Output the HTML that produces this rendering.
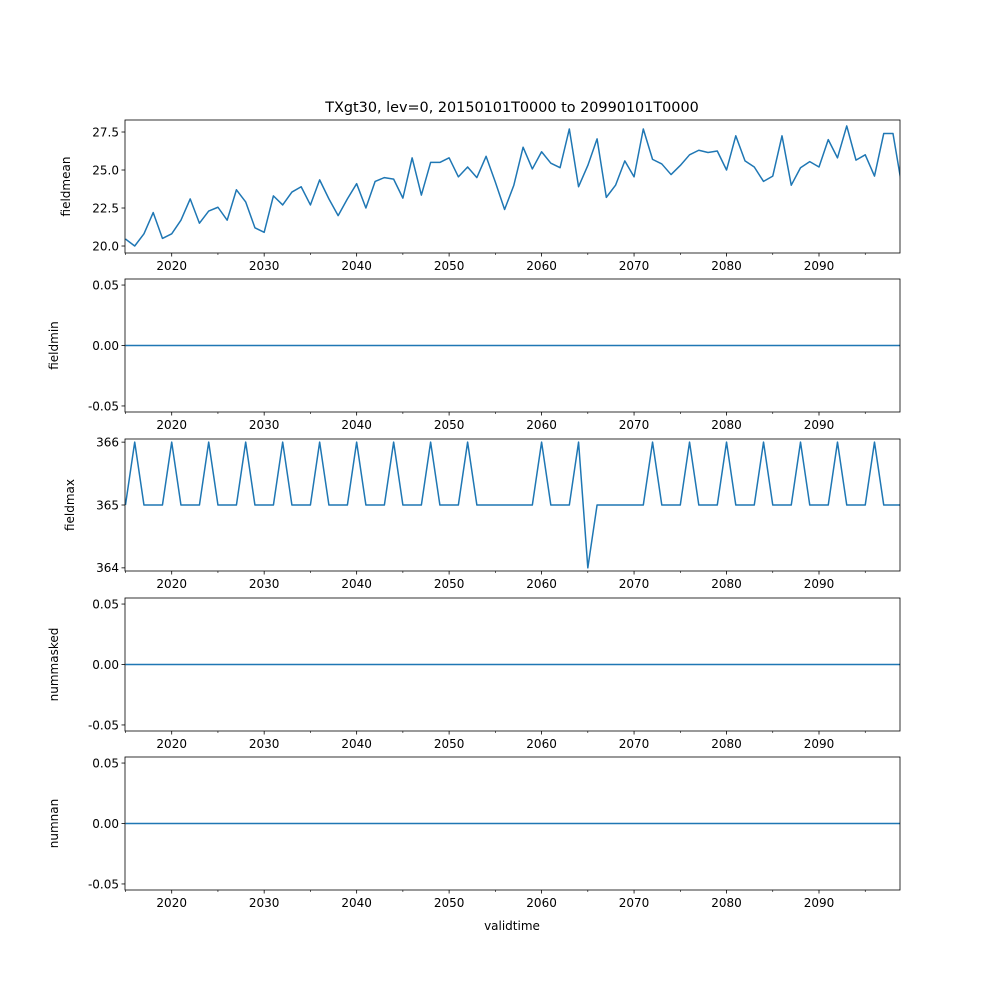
<!DOCTYPE html>
<html><head><meta charset="utf-8"><style>
html,body{margin:0;padding:0;background:#fff;}
svg text{font-family:"DejaVu Sans","Liberation Sans",sans-serif;font-size:12px;fill:#000;}
</style></head><body>
<svg id="c" width="1000" height="1000" xmlns="http://www.w3.org/2000/svg">
<defs></defs>
<text x="512" y="112" text-anchor="middle" style="font-size:14.4px">TXgt30, lev=0, 20150101T0000 to 20990101T0000</text>
<text x="512" y="930" text-anchor="middle">validtime</text>
</svg>
<script>
const years = [];
for (let y = 2015; y <= 2099; y++) years.push(y);
const fieldmean = [20.46,20.0,20.8,22.2,20.5,20.8,21.7,23.1,21.5,22.3,22.55,21.7,23.7,22.9,21.2,20.9,23.3,22.7,23.55,23.9,22.7,24.35,23.1,22.0,23.1,24.1,22.5,24.25,24.5,24.4,23.15,25.8,23.35,25.5,25.5,25.8,24.55,25.2,24.5,25.9,24.2,22.4,24.0,26.5,25.07,26.2,25.45,25.15,27.7,23.9,25.3,27.05,23.2,24.0,25.6,24.55,27.7,25.7,25.4,24.7,25.3,26.0,26.3,26.15,26.25,25.0,27.25,25.6,25.2,24.25,24.6,27.25,24.0,25.15,25.55,25.2,27.0,25.8,27.9,25.65,26.0,24.6,27.4,27.4,23.8];
const fieldmin = years.map(()=>0);
const fieldmax = [365,366,365,365,365,366,365,365,365,366,365,365,365,366,365,365,365,366,365,365,365,366,365,365,365,366,365,365,365,366,365,365,365,366,365,365,365,366,365,365,365,365,365,365,365,366,365,365,365,366,364,365,365,365,365,365,365,366,365,365,365,366,365,365,365,366,365,365,365,366,365,365,365,366,365,365,365,366,365,365,365,366,365,365,365];
const nummasked = years.map(()=>0);
const numnan = years.map(()=>0);
const xTicks = [2020,2030,2040,2050,2060,2070,2080,2090];
const xMinor = [2015,2025,2035,2045,2055,2065,2075,2085,2095];

const NS="http://www.w3.org/2000/svg";
const svg=document.getElementById('c');
const X0=125, X1=900;
function xs(v){return 171.7+(v-2020)*(819-171.7)/70;}
function mk(tag,attrs,parent){const e=document.createElementNS(NS,tag);for(const k in attrs)e.setAttribute(k,attrs[k]);(parent||svg).appendChild(e);return e;}

const panels=[
 {name:'fieldmean',data:fieldmean,top:120,bot:253,ymin:19.54,ymax:28.29,ticks:[20.0,22.5,25.0,27.5],fmt:v=>v.toFixed(1),lx:70},
 {name:'fieldmin',data:fieldmin,top:279,bot:412,ymin:-0.055,ymax:0.055,ticks:[-0.05,0,0.05],fmt:v=>v.toFixed(2),lx:58},
 {name:'fieldmax',data:fieldmax,top:439,bot:571,ymin:363.95,ymax:366.05,ticks:[364,365,366],fmt:v=>String(v),lx:74},
 {name:'nummasked',data:nummasked,top:598,bot:731,ymin:-0.055,ymax:0.055,ticks:[-0.05,0,0.05],fmt:v=>v.toFixed(2),lx:58},
 {name:'numnan',data:numnan,top:757,bot:890,ymin:-0.055,ymax:0.055,ticks:[-0.05,0,0.05],fmt:v=>v.toFixed(2),lx:58}
];
panels.forEach((p,i)=>{
  const g=mk('g',{});
  
  
  const ys=v=>p.bot-(v-p.ymin)/(p.ymax-p.ymin)*(p.bot-p.top);
  const cid='clip'+i;
  const cp=mk('clipPath',{id:cid},svg.querySelector('defs'));
  mk('rect',{x:X0,y:p.top,width:X1-X0,height:p.bot-p.top},cp);
  const pts=years.map((y,j)=>xs(y).toFixed(2)+','+ys(p.data[j]).toFixed(2)).join(' ');
  const line=mk('polyline',{points:pts,fill:'none',stroke:'#1f77b4','stroke-width':1.5,'stroke-linejoin':'round','clip-path':'url(#'+cid+')'},g);
  
  
  const fr=mk('rect',{x:X0,y:p.top,width:X1-X0,height:p.bot-p.top,fill:'none',stroke:'#000','stroke-width':0.8},g);
  
  
  xTicks.forEach(t=>{
    const x=xs(t);
    mk('line',{x1:x,x2:x,y1:p.bot,y2:p.bot+3.5,stroke:'#000','stroke-width':0.8},g);
    const tx=mk('text',{x:x,y:p.bot+17,'text-anchor':'middle'},g);
    tx.textContent=t;
    
    
  });
  xMinor.forEach(t=>{
    const x=xs(t);
    mk('line',{x1:x,x2:x,y1:p.bot,y2:p.bot+2,stroke:'#000','stroke-width':0.6},g);
  });
  p.ticks.forEach(t=>{
    const y=ys(t);
    mk('line',{x1:X0-3.5,x2:X0,y1:y,y2:y,stroke:'#000','stroke-width':0.8},g);
    const tx=mk('text',{x:X0-6,y:y+4.3,'text-anchor':'end'},g);
    tx.textContent=p.fmt(t);
    
    
  });
  const my=(p.top+p.bot)/2;
  const yl=mk('text',{x:p.lx,y:my,'text-anchor':'middle',transform:'rotate(-90 '+p.lx+' '+my+')'},g);
  yl.textContent=p.name;
  
  
});
</script>
</body></html>
